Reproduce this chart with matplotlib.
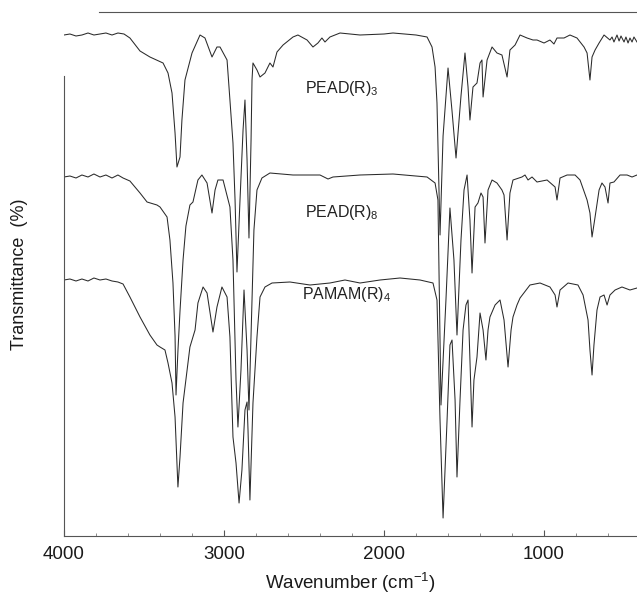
import matplotlib
matplotlib.use("Agg")
import matplotlib.pyplot as plt
from matplotlib.ticker import MultipleLocator

plt.rcParams['font.family'] = ['Liberation Sans', 'DejaVu Sans']
plt.rcParams['mathtext.fontset'] = 'custom'
plt.rcParams['mathtext.rm'] = 'Liberation Sans'
plt.rcParams['mathtext.it'] = 'Liberation Sans'
plt.rcParams['mathtext.default'] = 'rm'

# ---- data (wavenumber cm-1, transmittance in arbitrary % units, offset spectra) ----
pead3_wn = [4000, 3963, 3925, 3888, 3850, 3813, 3775, 3738, 3700, 3663, 3625, 3588, 3525, 3463,
            3381, 3350, 3325, 3306, 3294, 3275, 3263, 3244, 3200, 3150, 3119, 3075, 3044, 3025,
            2981, 2963, 2944, 2931, 2919, 2900, 2881, 2869, 2856, 2844, 2831, 2825, 2819, 2794,
            2775, 2744, 2713, 2694, 2669, 2631, 2569, 2538, 2481, 2444, 2413, 2388, 2369, 2338,
            2275, 2150, 2000, 1944, 1800, 1731, 1700, 1681, 1669, 1650, 1631, 1600, 1575, 1550,
            1519, 1494, 1475, 1463, 1444, 1419, 1400, 1388, 1381, 1356, 1325, 1294, 1263, 1231,
            1213, 1181, 1150, 1106, 1069, 1044, 1000, 963, 938, 919, 875, 838, 794, 750, 731,
            713, 700, 681, 656, 625, 588, 575, 563, 544, 531, 519, 500, 488, 475, 463, 450, 438, 419]
pead3_t = [100.2, 100.4, 100.0, 100.2, 100.6, 100.2, 100.4, 100.6, 100.2, 100.6, 100.4, 99.6, 97.0, 95.8,
           94.6, 92.6, 88.6, 80.6, 73.8, 75.8, 83.2, 91.2, 96.6, 100.2, 99.6, 95.8, 97.8, 97.8,
           95.2, 87.2, 78.6, 67.2, 52.8, 67.2, 81.2, 87.2, 75.2, 59.6, 79.2, 91.2, 94.6, 93.2,
           91.8, 92.6, 94.6, 93.8, 96.8, 98.2, 99.8, 100.2, 99.2, 97.8, 98.6, 99.6, 98.8, 99.8,
           100.6, 100.2, 100.4, 100.6, 100.2, 99.8, 97.8, 93.8, 86.6, 60.2, 80.0, 93.6, 85.0, 75.6,
           88.0, 96.6, 89.8, 83.2, 89.8, 90.6, 94.6, 95.2, 87.8, 95.2, 97.8, 96.6, 96.2, 91.8,
           97.2, 98.2, 100.2, 99.6, 99.2, 99.2, 98.6, 99.2, 98.4, 99.6, 99.6, 100.2, 99.6, 97.8, 96.6,
           91.2, 95.8, 97.2, 98.6, 100.2, 99.2, 99.8, 98.8, 100.2, 99.0, 100.0, 98.8, 99.8, 98.6, 99.6, 98.8, 99.8, 98.8]

pead8_wn = [4000, 3963, 3925, 3888, 3850, 3813, 3775, 3738, 3700, 3663, 3631, 3588, 3525, 3481,
            3419, 3400, 3356, 3338, 3319, 3306, 3300, 3288, 3275, 3256, 3238, 3213, 3194, 3163,
            3138, 3106, 3075, 3056, 3038, 3006, 2963, 2944, 2925, 2913, 2894, 2875, 2856, 2844,
            2825, 2813, 2794, 2763, 2713, 2569, 2400, 2350, 2319, 2150, 1944, 1731, 1681, 1663,
            1644, 1613, 1588, 1563, 1544, 1519, 1500, 1481, 1463, 1450, 1431, 1413, 1394, 1381,
            1369, 1350, 1325, 1294, 1263, 1250, 1231, 1213, 1194, 1138, 1119, 1100, 1075, 1044,
            981, 931, 919, 900, 856, 806, 775, 731, 713, 700, 681, 656, 638, 619, 600, 588, 563,
            525, 481, 450, 419]
pead8_t = [71.8, 72.0, 71.6, 72.2, 71.8, 72.4, 71.8, 72.2, 71.6, 72.2, 71.6, 71.0, 68.6, 66.8,
           66.2, 65.8, 63.8, 59.2, 50.6, 40.0, 28.2, 37.0, 45.0, 55.2, 62.0, 66.2, 66.8, 71.2,
           72.2, 70.6, 64.6, 69.2, 71.2, 71.2, 65.8, 55.2, 31.2, 21.8, 33.2, 49.2, 37.2, 25.2,
           47.2, 61.2, 69.2, 71.6, 72.6, 72.2, 72.2, 71.4, 71.8, 72.2, 72.4, 71.8, 70.6, 67.2,
           26.2, 47.2, 65.6, 55.2, 40.2, 59.2, 69.2, 72.2, 63.2, 52.6, 65.8, 66.6, 68.6, 67.8,
           58.6, 69.2, 71.2, 70.6, 69.2, 68.2, 59.2, 68.6, 71.2, 71.8, 72.2, 71.2, 71.8, 70.8,
           71.2, 69.8, 67.2, 71.6, 72.2, 72.2, 71.2, 67.2, 64.6, 59.8, 63.8, 69.2, 70.6, 69.8, 66.6, 70.6, 70.8,
           72.2, 72.2, 71.8, 72.2]

pamam4_wn = [4000, 3963, 3925, 3888, 3850, 3813, 3775, 3738, 3700, 3663, 3631, 3588, 3525, 3463,
             3419, 3400, 3369, 3350, 3325, 3306, 3288, 3275, 3256, 3213, 3181, 3163, 3131, 3106,
             3069, 3044, 3013, 2981, 2963, 2944, 2925, 2906, 2888, 2869, 2856, 2850, 2838, 2819,
             2794, 2775, 2744, 2700, 2588, 2463, 2338, 2244, 2150, 2025, 1900, 1775, 1694, 1669,
             1650, 1631, 1606, 1588, 1575, 1556, 1544, 1525, 1506, 1488, 1475, 1463, 1450, 1438,
             1419, 1400, 1381, 1363, 1350, 1338, 1306, 1275, 1250, 1225, 1206, 1194, 1169, 1150,
             1088, 1025, 963, 931, 919, 900, 850, 788, 756, 725, 713, 700, 688, 669, 650, 625,
             606, 588, 556, 513, 463, 419]
pamam4_t = [51.2, 51.4, 51.0, 51.4, 51.0, 51.6, 51.2, 51.4, 51.0, 50.8, 50.4, 47.8, 43.8, 40.2,
            38.2, 37.8, 37.2, 34.6, 30.6, 23.8, 9.8, 15.8, 26.6, 37.8, 41.2, 46.6, 49.8, 48.6,
            40.8, 45.8, 49.8, 47.8, 39.8, 19.8, 14.6, 6.6, 13.2, 25.2, 26.8, 21.2, 7.2, 26.6,
            39.8, 47.8, 49.8, 50.6, 50.8, 50.2, 50.6, 51.2, 50.6, 51.2, 51.6, 51.2, 50.6, 47.2,
            23.2, 3.6, 23.2, 38.2, 39.2, 27.2, 11.8, 27.2, 41.2, 46.2, 47.2, 35.2, 21.8, 31.2,
            35.8, 44.6, 41.2, 35.2, 41.2, 43.8, 46.2, 47.2, 43.2, 33.8, 41.2, 43.8, 46.2, 47.6,
            50.2, 50.6, 49.8, 48.2, 45.8, 49.2, 50.6, 50.2, 48.2, 43.2, 37.2, 32.2, 38.2, 45.2, 47.8, 48.2,
            46.2, 48.2, 49.2, 49.8, 49.2, 49.6]

labels = ["PEAD(R)$_{3}$", "PEAD(R)$_{8}$", "PAMAM(R)$_{4}$"]
label_pos = [(2495, 89.6), (2495, 64.6), (2513, 48.2)]

fig = plt.figure(figsize=(6.37, 5.99), dpi=100)
ax = fig.add_axes([64/637, 63/599, 573/637, 524/599])

lc = '#2a2a2a'
for wn, t in [(pead3_wn, pead3_t), (pead8_wn, pead8_t), (pamam4_wn, pamam4_t)]:
    ax.plot(wn, t, color=lc, lw=0.75)

for lab, (x, y) in zip(labels, label_pos):
    ax.text(x, y, lab, fontsize=11.5, color='#222222', ha='left', va='center')

ax.set_xlim(4000, 419)
ax.set_ylim(0, 104.8)

ax.spines['right'].set_visible(False)
for s in ['left', 'top', 'bottom']:
    ax.spines[s].set_color('#555555')
    ax.spines[s].set_linewidth(0.8)
ax.spines['top'].set_bounds(3780, 419)
ax.spines['left'].set_bounds(0, 92)

ax.set_xticks([4000, 3000, 2000, 1000])
ax.xaxis.set_minor_locator(MultipleLocator(200))
ax.tick_params(axis='x', which='major', direction='in', length=4, width=0.8,
               colors='#555555', labelcolor='#1a1a1a', labelsize=13.5, pad=7, top=False)
ax.tick_params(axis='x', which='minor', direction='in', length=2, width=0.6,
               colors='#777777', top=False)
ax.set_yticks([])

ax.set_xlabel("Wavenumber (cm$^{-1}$)", fontsize=13.5, color='#1a1a1a', labelpad=6)
ax.set_ylabel("Transmittance  (%)", fontsize=13, color='#1a1a1a', labelpad=26)

fig.savefig("out.png", dpi=100)
